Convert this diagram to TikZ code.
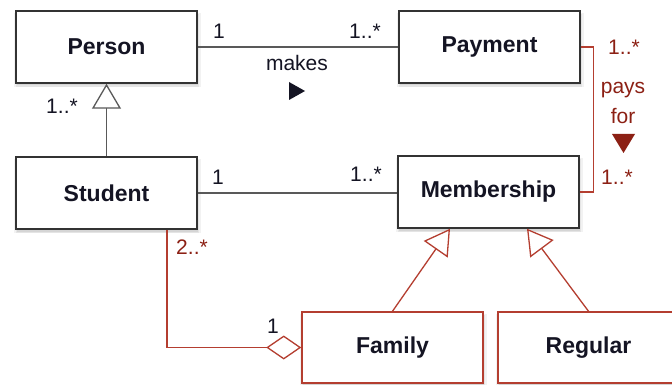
\documentclass[tikz,border=0pt]{standalone}
\usepackage{fontspec}
\setmainfont{Liberation Sans}
\usetikzlibrary{arrows.meta,shadows,calc}
\definecolor{rd}{RGB}{180,62,48}
\definecolor{rdtxt}{RGB}{140,32,20}
\definecolor{ink}{RGB}{20,20,35}
\begin{document}
\begin{tikzpicture}[x=1pt,y=-1pt,
 softshadow/.style={
   drop shadow={shadow xshift=1pt, shadow yshift=-3pt, shadow scale=1.03, opacity=0.10},
   drop shadow={shadow xshift=1pt, shadow yshift=-3pt, shadow scale=1.015, opacity=0.12},
   drop shadow={shadow xshift=1pt, shadow yshift=-2.5pt, opacity=0.15}},
 cls/.style={draw=black!80, line width=1.5pt, fill=white, minimum width=181pt, minimum height=72pt,
   font=\fontsize{23}{25}\selectfont\bfseries, text=ink, inner sep=0pt, softshadow},
 rcls/.style={cls, draw=rd},
 lbl/.style={font=\fontsize{21}{24}\selectfont, text=ink, inner sep=0pt},
 rlbl/.style={lbl, text=rdtxt},
 assoc/.style={draw=black!65, line width=1.3pt},
 rassoc/.style={draw=rd, line width=1.3pt},
 gen/.style={-{Triangle[open,length=25pt,width=29pt,fill=white]}},
 agg/.style={-{Diamond[open,length=35pt,width=24pt,fill=white]}}
]
\useasboundingbox (0,0) rectangle (672,385);
\fill[white] (0,0) rectangle (672,385);

% classes
\node[cls] (person) at (106.5,47) {Person};
\node[cls] (payment) at (489.5,47) {Payment};
\node[cls] (student) at (106.5,193) {Student};
\node[cls] (member) at (488.5,192) {Membership};
\node[rcls, minimum height=71pt] (family) at (392.5,347.5) {Family};
\node[rcls, minimum height=71pt] (regular) at (588.5,347.5) {Regular};

% connectors
\draw[assoc] (person.east) -- (payment.west);
\draw[assoc] (student.east) -- (student.east -| member.west);
\draw[assoc, gen] (student.north) -- (person.south);
\draw[rassoc] (payment.east) -- ++(13,0) |- (member.east);
\draw[rassoc, agg] ([xshift=60.5pt]student.south) |- (family.west);
\draw[rassoc, gen] (family.north) -- ([xshift=-38.5pt]member.south);
\draw[rassoc, gen] (regular.north) -- ([xshift=38.5pt]member.south);

% labels
\node[lbl] (m1) at (219,31) {1};
\node[lbl] (m2) at (365,31) {1..*};
\node[lbl] (makes) at (297,63) {makes};
\fill[ink] (289,82) -- (305,91) -- (289,100) -- cycle;
\node[lbl] (m3) at (62,106) {1..*};
\node[lbl] (m4) at (218,177) {1};
\node[lbl] (m5) at (366,174) {1..*};
\node[rlbl] (m6) at (624,47) {1..*};
\node[rlbl] (pays) at (623,90) {pays};
\node[rlbl] (for) at (623,116) {for};
\fill[rdtxt] (612,134) -- (635,134) -- (623.5,153) -- cycle;
\node[rlbl] (m7) at (617,177) {1..*};
\node[rlbl] (m8) at (192,247) {2..*};
\node[lbl] (m9) at (273,326) {1};
\end{tikzpicture}
\end{document}
